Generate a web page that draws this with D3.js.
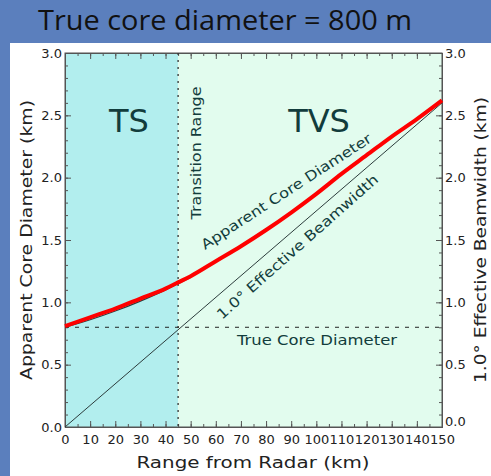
<!DOCTYPE html>
<html><head><meta charset="utf-8">
<script src="https://cdn.jsdelivr.net/npm/d3@7"></script>
<style>html,body{margin:0;padding:0;background:#5b7fbd;}svg{display:block;}</style>
</head><body>
<script>
// ---- data ----
const title = "True core diameter = 800 m";
const apparentRange = [0, 10, 20, 30, 40, 45, 50, 60, 70, 80, 90, 100, 110, 120, 130, 140, 150];
const apparentDiam  = [0.81, 0.88, 0.95, 1.03, 1.11, 1.16, 1.21, 1.33, 1.45, 1.58, 1.72, 1.87, 2.03, 2.18, 2.33, 2.47, 2.62];
const thinRange = [0, 10, 20, 30, 40, 45, 50];
const thinDiam  = [0.80, 0.86, 0.93, 1.01, 1.10, 1.15, 1.20];
const beamRange = [0, 150];
const beamWidth = [0, 2.60];
const trueCore = 0.8;
const transitionKm = 45;
const xTicks = [0,10,20,30,40,50,60,70,80,90,100,110,120,130,140,150];
const yTicks = [0.0,0.5,1.0,1.5,2.0,2.5,3.0];

const W = 491, H = 476;
const m = {l: 65, r: 442, t: 53, b: 427};
const svg = d3.select("body").append("svg").attr("width", W).attr("height", H);
svg.append("rect").attr("width", W).attr("height", H).attr("fill", "#5b7fbd");
svg.append("rect").attr("x", 10).attr("y", 43).attr("width", W - 10).attr("height", H - 43).attr("fill", "#ffffff");
svg.append("text").attr("x", 38).attr("y", 30).attr("font-family", "Open Sans, sans-serif")
  .attr("font-size", 28).attr("fill", "#111").attr("textLength", 374).attr("lengthAdjust", "spacingAndGlyphs").text(title);

const x = d3.scaleLinear().domain([0, 150]).range([m.l, m.r]);
const y = d3.scaleLinear().domain([0, 3]).range([m.b, m.t]);

// regions
svg.append("rect").attr("x", x(0)).attr("y", y(3)).attr("width", x(transitionKm) - x(0)).attr("height", y(0) - y(3)).attr("fill", "#b2eeee");
svg.append("rect").attr("x", x(transitionKm)).attr("y", y(3)).attr("width", x(150) - x(transitionKm)).attr("height", y(0) - y(3)).attr("fill", "#e2fcee");

const font = "DejaVu Sans, sans-serif";
const ink = "#222";

// axes
const gAxes = svg.append("g");
const xMinor = d3.range(0, 151, 5);
const yMinor = d3.range(0, 31, 1).map(d => d / 10);

gAxes.append("g").attr("transform", `translate(0,${m.b})`).call(d3.axisBottom(x).tickValues(xMinor).tickSize(-3).tickFormat(""));
gAxes.append("g").attr("transform", `translate(0,${m.b})`).call(d3.axisBottom(x).tickValues(xTicks).tickSize(-6).tickPadding(8).tickFormat(d3.format("d")));
gAxes.append("g").attr("transform", `translate(0,${m.t})`).call(d3.axisTop(x).tickValues(xMinor).tickSize(-3).tickFormat(""));
gAxes.append("g").attr("transform", `translate(0,${m.t})`).call(d3.axisTop(x).tickValues(xTicks).tickSize(-6).tickFormat(""));
gAxes.append("g").attr("transform", `translate(${m.l},0)`).call(d3.axisLeft(y).tickValues(yMinor).tickSize(-3).tickFormat(""));
gAxes.append("g").attr("transform", `translate(${m.l},0)`).call(d3.axisLeft(y).tickValues(yTicks).tickSize(-6).tickPadding(3).tickFormat(d3.format(".1f")));
gAxes.append("g").attr("transform", `translate(${m.r},0)`).call(d3.axisRight(y).tickValues(yMinor).tickSize(-3).tickFormat(""));
const gr = gAxes.append("g").attr("transform", `translate(${m.r},0)`).call(d3.axisRight(y).tickValues(yTicks).tickSize(-6).tickPadding(3).tickFormat(d3.format(".1f")));
gr.selectAll(".tick").filter(d => d === 0).select("text").attr("dy", "-0.1em");

gAxes.selectAll(".domain").attr("stroke", "#555");
gAxes.selectAll(".tick line").attr("stroke", "#555");
gAxes.selectAll(".tick text").attr("font-family", font).attr("font-size", 13).attr("fill", ink);
svg.append("rect").attr("x", m.l).attr("y", m.t).attr("width", m.r - m.l).attr("height", m.b - m.t)
  .attr("fill", "none").attr("stroke", "#555").attr("stroke-width", 1);

// transition vertical dotted line
svg.append("line").attr("x1", x(transitionKm)).attr("x2", x(transitionKm)).attr("y1", y(3)).attr("y2", y(0))
  .attr("stroke", "#333").attr("stroke-width", 1.3).attr("stroke-dasharray", "2,5");
// true core dashed
svg.append("line").attr("x1", x(0)).attr("x2", x(150)).attr("y1", y(trueCore)).attr("y2", y(trueCore))
  .attr("stroke", "#222").attr("stroke-width", 1).attr("stroke-dasharray", "4,6");

const line = d3.line().x(d => x(d[0])).y(d => y(d[1])).curve(d3.curveMonotoneX);
svg.append("path").datum(d3.zip(beamRange, beamWidth)).attr("d", line).attr("fill", "none").attr("stroke", "#2c3c3c").attr("stroke-width", 1);
svg.append("path").datum(d3.zip(thinRange, thinDiam)).attr("d", line).attr("fill", "none").attr("stroke", "#2c3c3c").attr("stroke-width", 1.2);
svg.append("path").datum(d3.zip(apparentRange, apparentDiam)).attr("d", line).attr("fill", "none").attr("stroke", "#ff0000").attr("stroke-width", 4);

// region labels
const teal = "#123c3c";
svg.append("text").attr("x", 129).attr("y", 132).attr("text-anchor", "middle").attr("font-family", font).attr("font-size", 32).attr("fill", teal).text("TS");
svg.append("text").attr("x", 319).attr("y", 132).attr("text-anchor", "middle").attr("font-family", font).attr("font-size", 32).attr("fill", teal).text("TVS");
svg.append("text").attr("transform", "translate(201,153) rotate(-90)").attr("text-anchor", "middle").attr("font-family", font)
  .attr("font-size", 14).attr("fill", teal).attr("textLength", 133).attr("lengthAdjust", "spacingAndGlyphs").text("Transition Range");
svg.append("text").attr("x", 317).attr("y", 345).attr("text-anchor", "middle").attr("font-family", font)
  .attr("font-size", 14).attr("fill", teal).attr("textLength", 160).attr("lengthAdjust", "spacingAndGlyphs").text("True Core Diameter");
svg.append("text").attr("transform", "translate(205,250) rotate(-33)").attr("font-family", font)
  .attr("font-size", 14).attr("fill", teal).attr("textLength", 200).attr("lengthAdjust", "spacingAndGlyphs").text("Apparent Core Diameter");
svg.append("text").attr("transform", "translate(222,320) rotate(-41.5)").attr("font-family", font)
  .attr("font-size", 14).attr("fill", teal).attr("textLength", 210).attr("lengthAdjust", "spacingAndGlyphs").text("1.0° Effective Beamwidth");

// axis titles
svg.append("text").attr("x", 253).attr("y", 468).attr("text-anchor", "middle").attr("font-family", font)
  .attr("font-size", 16).attr("fill", ink).attr("textLength", 233).attr("lengthAdjust", "spacingAndGlyphs").text("Range from Radar (km)");
svg.append("text").attr("transform", "translate(32,240) rotate(-90)").attr("text-anchor", "middle").attr("font-family", font)
  .attr("font-size", 16).attr("fill", ink).attr("textLength", 280).attr("lengthAdjust", "spacingAndGlyphs").text("Apparent Core Diameter (km)");
svg.append("text").attr("transform", "translate(486,240) rotate(-90)").attr("text-anchor", "middle").attr("font-family", font)
  .attr("font-size", 15).attr("fill", ink).attr("textLength", 286).attr("lengthAdjust", "spacingAndGlyphs").text("1.0° Effective Beamwidth (km)");
</script>
</body></html>
